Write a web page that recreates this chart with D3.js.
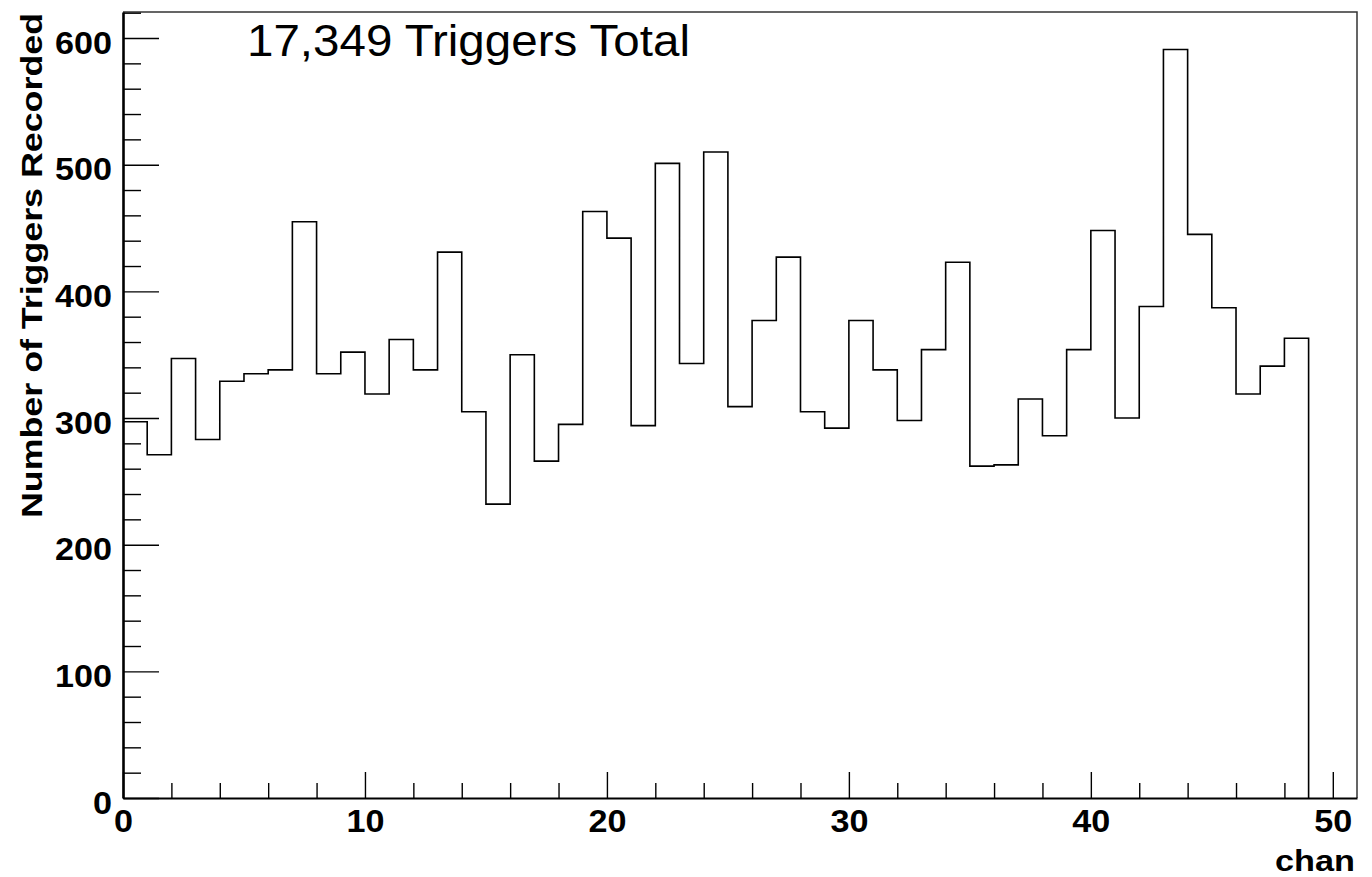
<!DOCTYPE html>
<html>
<head>
<meta charset="utf-8">
<script src="https://cdn.jsdelivr.net/npm/d3@7"></script>
<style>
  html, body { margin: 0; padding: 0; background: #fff; }
  svg { display: block; }
  text { font-family: "Liberation Sans", Arial, Helvetica, sans-serif; fill: #000; }
</style>
</head>
<body>
<svg id="chart" width="1372" height="877"></svg>
<script>
// Trigger counts per readout channel (bins of width 1, channels 0..48)
const channels = d3.range(49);
const triggers = [
  297, 271, 347, 283, 329, 335, 338, 455, 335, 352,
  319, 362, 338, 431, 305, 232, 350, 266, 295, 463,
  442, 294, 501, 343, 510, 309, 377, 427, 305, 292,
  377, 338, 298, 354, 423, 262, 263, 315, 286, 354,
  448, 300, 388, 591, 445, 387, 319, 341, 363
];
const xMajorTicks = [0, 10, 20, 30, 40, 50];
const xMinorTicks = [2, 4, 6, 8, 12, 14, 16, 18, 22, 24, 26, 28, 32, 34, 36, 38, 42, 44, 46, 48];
const yMajorTicks = [0, 100, 200, 300, 400, 500, 600];
const yMinorTicks = [20, 40, 60, 80, 120, 140, 160, 180, 220, 240, 260, 280,
                     320, 340, 360, 380, 420, 440, 460, 480, 520, 540, 560, 580, 620];
const totalLabel = "17,349 Triggers Total";
const xTitle = "chan";
const yTitle = "Number of Triggers Recorded";

const frame = { left: 123, right: 1357, top: 12, bottom: 798 };
const svg = d3.select("#chart");

const x = d3.scaleLinear().domain([0, 51]).range([frame.left, frame.right]);
const y = d3.scaleLinear().domain([0, d3.max(triggers) * 1.05]).range([frame.bottom, frame.top]);

// Frame (top and right edges)
svg.append("path")
  .attr("d", `M${frame.left},${frame.top}H${frame.right}V${frame.bottom}`)
  .attr("fill", "none")
  .attr("stroke", "#333")
  .attr("stroke-width", 1.5);

// Histogram outline drawn as a step line
const stepLine = d3.line()
  .x(d => x(d[0]))
  .y(d => y(d[1]))
  .curve(d3.curveStepAfter);
const points = channels.map((c, i) => [c, triggers[i]]).concat([[channels.length, 0]]);
svg.append("path")
  .attr("d", stepLine(points))
  .attr("fill", "none")
  .attr("stroke", "#000")
  .attr("stroke-width", 1.6);

// X axis: minor and major ticks point up into the frame
const gxMinor = svg.append("g").attr("transform", `translate(0,${frame.bottom})`)
  .call(d3.axisBottom(x).tickValues(xMinorTicks).tickSizeInner(-15).tickSizeOuter(0).tickFormat(""));
const gxMajor = svg.append("g").attr("transform", `translate(0,${frame.bottom})`)
  .call(d3.axisBottom(x).tickValues(xMajorTicks).tickSizeInner(-26).tickSizeOuter(0).tickFormat(d3.format("d")));

// Y axis: ticks point right into the frame
const gyMinor = svg.append("g").attr("transform", `translate(${frame.left},0)`)
  .call(d3.axisLeft(y).tickValues(yMinorTicks).tickSizeInner(-18).tickSizeOuter(0).tickFormat(""));
const gyMajor = svg.append("g").attr("transform", `translate(${frame.left},0)`)
  .call(d3.axisLeft(y).tickValues(yMajorTicks).tickSizeInner(-36).tickSizeOuter(0).tickFormat(d3.format("d")));

[gxMinor, gxMajor, gyMinor, gyMajor].forEach(g => {
  g.selectAll(".tick line").attr("stroke", "#000").attr("stroke-width", 1.4);
});
gxMinor.select(".domain").remove();
gyMinor.select(".domain").remove();
gxMajor.select(".domain").attr("stroke", "#000").attr("stroke-width", 2);
gyMajor.select(".domain").attr("stroke", "#000").attr("stroke-width", 2.6);

gxMajor.selectAll(".tick text")
  .attr("y", 34)
  .attr("dy", null)
  .attr("font-size", 32)
  .attr("font-weight", "bold")
  .attr("font-family", null)
  .attr("textLength", d => String(d).length * 19)
  .attr("lengthAdjust", "spacingAndGlyphs");

gyMajor.selectAll(".tick text")
  .attr("x", -11)
  .attr("y", 15)
  .attr("dy", null)
  .attr("font-size", 32)
  .attr("font-weight", "bold")
  .attr("font-family", null)
  .attr("textLength", d => String(d).length * 19)
  .attr("lengthAdjust", "spacingAndGlyphs");

// Axis titles
svg.append("text")
  .attr("transform", `translate(42,13) rotate(-90)`)
  .attr("text-anchor", "end")
  .attr("font-size", 30)
  .attr("font-weight", "bold")
  .attr("textLength", 505)
  .attr("lengthAdjust", "spacingAndGlyphs")
  .text(yTitle);

svg.append("text")
  .attr("x", 1355)
  .attr("y", 871)
  .attr("text-anchor", "end")
  .attr("font-size", 30)
  .attr("font-weight", "bold")
  .attr("textLength", 80)
  .attr("lengthAdjust", "spacingAndGlyphs")
  .text(xTitle);

// Annotation with the total count
svg.append("text")
  .attr("x", 247)
  .attr("y", 56)
  .attr("font-size", 44)
  .attr("textLength", 443)
  .attr("lengthAdjust", "spacingAndGlyphs")
  .text(totalLabel);
</script>
</body>
</html>
